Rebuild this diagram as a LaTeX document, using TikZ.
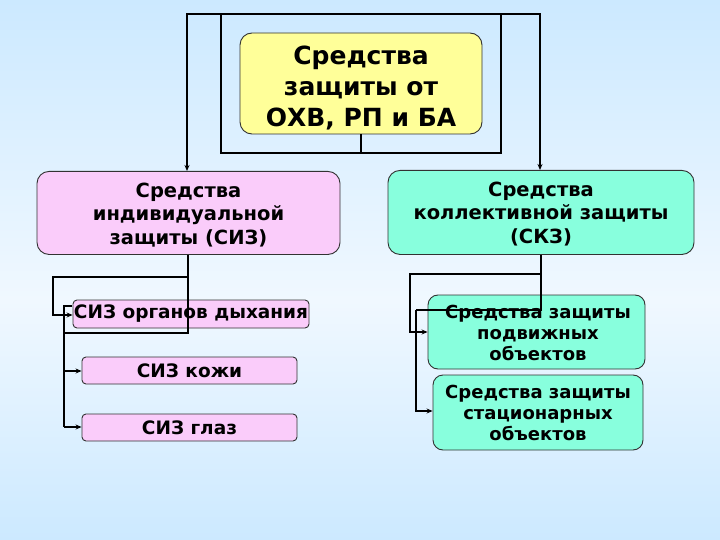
\documentclass[tikz,border=0pt]{standalone}
\usepackage{fontspec}
\setmainfont{DejaVu Sans}
\newfontfamily\bfa{DejaVu Sans Bold}
\usetikzlibrary{arrows.meta}
\definecolor{bgtop}{RGB}{204,233,255}
\definecolor{bgmid}{RGB}{240,248,255}
\definecolor{bgbot}{RGB}{204,233,255}
\definecolor{yel}{RGB}{255,255,153}
\definecolor{pnk}{RGB}{250,204,250}
\definecolor{aqu}{RGB}{136,255,221}
\definecolor{edge}{RGB}{50,50,50}
\tikzset{
  box/.style={draw=edge, line width=0.9pt, rounded corners=12pt, inner sep=0pt},
  sbox/.style={draw=edge, line width=0.9pt, rounded corners=4pt, align=center, inner sep=0pt, font=\bfa\fontsize{18.5}{20}\selectfont},
  lbl/.style={align=center, inner sep=0pt},
  conn/.style={line width=2pt, draw=black},
  arr/.style={conn, -{Stealth[length=6pt,width=5pt]}}
}
\begin{document}
\begin{tikzpicture}[x=1pt,y=-1pt]
\useasboundingbox (0,0) rectangle (720,540);
\shade[top color=bgtop, bottom color=bgmid] (0,0) rectangle (720,300);
\shade[top color=bgmid, bottom color=bgbot] (0,300) rectangle (720,540);
% main boxes
\node[box, fill=yel, minimum width=242pt, minimum height=101pt] (top) at (361,83.5) {};
\node[lbl, font=\bfa\fontsize{25}{31}\selectfont] (topl) at (361,88) {Средства\\защиты от\\ОХВ, РП и БА};
\node[box, fill=pnk, minimum width=303pt, minimum height=83pt, anchor=north] (siz) at (188.5,171) {};
\node[lbl, font=\bfa\fontsize{19.5}{23.5}\selectfont] (sizl) at (188.5,215) {Средства\\индивидуальной\\защиты (СИЗ)};
\node[box, fill=aqu, minimum width=306pt, minimum height=84pt, anchor=north] (skz) at (541,170) {};
\node[lbl, font=\bfa\fontsize{19.5}{23.5}\selectfont] (skzl) at (541,214) {Средства\\коллективной защиты\\(СКЗ)};
% left small boxes
\node[sbox, fill=pnk, minimum width=236pt, minimum height=28pt] (s1) at (191,314) {СИЗ органов дыхания};
\node[sbox, fill=pnk, minimum width=215pt, minimum height=27pt] (s2) at (189.5,370.5) {СИЗ кожи};
\node[sbox, fill=pnk, minimum width=215pt, minimum height=27pt] (s3) at (189.5,427.5) {СИЗ глаз};
% right small boxes
\node[box, rounded corners=10pt, fill=aqu, minimum width=217pt, minimum height=74pt] (k1) at (536.5,332) {};
\node[lbl, font=\bfa\fontsize{18}{21}\selectfont] (k1l) at (538,333) {Средства защиты\\подвижных\\объектов};
\node[box, rounded corners=10pt, fill=aqu, minimum width=210pt, minimum height=75pt] (k2) at (538,412.5) {};
\node[lbl, font=\bfa\fontsize{18}{21}\selectfont] (k2l) at (538,413) {Средства защиты\\стационарных\\объектов};
% top connectors
\coordinate (a1) at (361,153);
\draw[conn] (top.south) -- (a1) -- (221,153) -- (221,14) -- (501,14) -- (501,153) -- (a1);
\draw[arr] (221,14) -- (187,14) -- (siz.north -| 187,0);
\draw[arr] (501,14) -- (540,14) -- (skz.north -| 540,0);
% left connectors
\draw[conn] (siz.south -| 188,0) -- (188,333) -- (64,333);
\draw[arr] (188,277) -- (53,277) -- (53,315) -- (s1.west |- 0,315);
\draw[conn] (72,306) -- (64,306) -- (64,427);
\draw[arr] (64,371) -- (s2.west |- 0,371);
\draw[arr] (64,427) -- (s3.west |- 0,427);
% right connectors
\draw[conn] (skz.south -| 541,0) -- (541,310) -- (416,310);
\draw[arr] (541,274) -- (410,274) -- (410,332) -- (k1.west |- 0,332);
\draw[arr] (416,310) -- (416,411) -- (k2.west |- 0,411);
\end{tikzpicture}
\end{document}
